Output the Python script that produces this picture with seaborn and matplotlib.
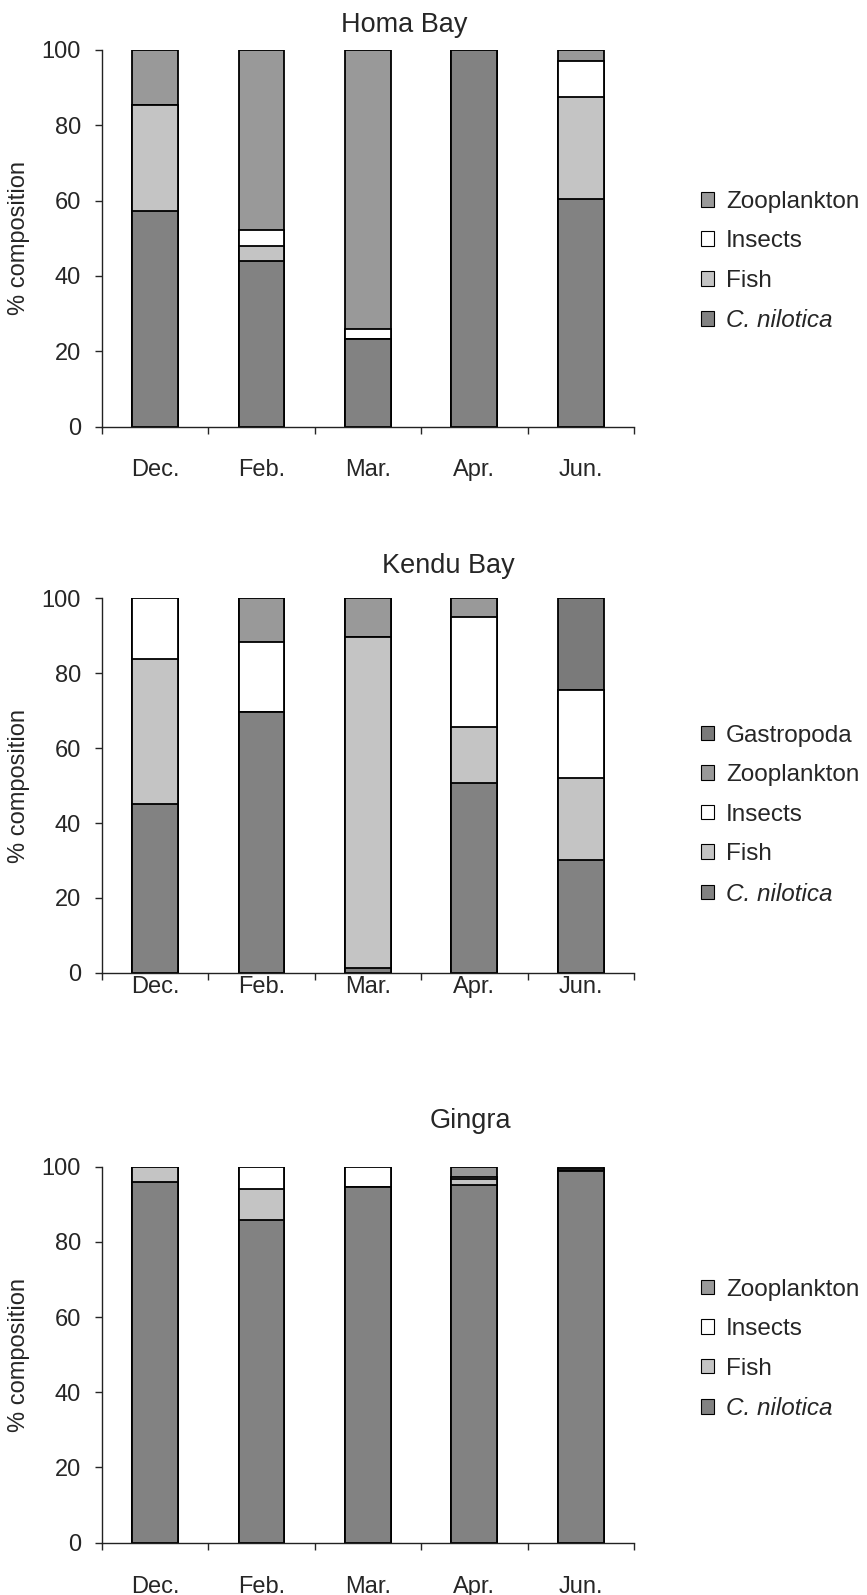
import matplotlib
matplotlib.use("Agg")
import matplotlib.pyplot as plt
from matplotlib.patches import Patch
from matplotlib.ticker import FixedLocator
import seaborn as sns

### DATA (% composition)

months = ["Dec.", "Feb.", "Mar.", "Apr.", "Jun."]

homa_cnil = [57.3, 44.0, 23.3, 100.0, 60.4]
homa_fish = [28.1, 4.0, 0.0, 0.0, 27.0]
homa_insects = [0.0, 4.2, 2.5, 0.0, 9.7]
homa_zoo = [14.6, 47.8, 74.2, 0.0, 2.9]

kendu_cnil = [45.0, 69.6, 1.4, 50.7, 30.1]
kendu_fish = [38.8, 0.0, 88.3, 15.0, 21.9]
kendu_insects = [16.2, 18.7, 0.0, 29.3, 23.5]
kendu_zoo = [0.0, 11.7, 10.3, 5.0, 0.0]
kendu_gastro = [0.0, 0.0, 0.0, 0.0, 24.5]

gingra_cnil = [96.0, 85.8, 94.7, 95.1, 99.0]
gingra_fish = [4.0, 8.3, 0.0, 1.7, 0.0]
gingra_insects = [0.0, 5.9, 5.3, 0.6, 0.4]
gingra_zoo = [0.0, 0.0, 0.0, 2.6, 0.6]

yticks = [0, 20, 40, 60, 80, 100]

colors = {
    "C. nilotica": "#828282",
    "Fish": "#c4c4c4",
    "Insects": "#ffffff",
    "Zooplankton": "#999999",
    "Gastropoda": "#7a7a7a",
}

### STYLE

sns.set_style("ticks")
plt.rcParams["font.family"] = ["Liberation Sans", "DejaVu Sans"]
FS = 17

fig = plt.figure(figsize=(8.67, 15.95), dpi=100)

# panel settings: (title, series, axes rect, title x, title pad, xlabel pad, legend y)
panels = [
    ("Homa Bay",
     [("C. nilotica", homa_cnil), ("Fish", homa_fish), ("Insects", homa_insects),
      ("Zooplankton", homa_zoo)],
     [0.1173, 0.7325, 0.614, 0.2362], 0.568, 13, 23, 0.836),
    ("Kendu Bay",
     [("C. nilotica", kendu_cnil), ("Fish", kendu_fish), ("Insects", kendu_insects),
      ("Zooplankton", kendu_zoo), ("Gastropoda", kendu_gastro)],
     [0.1173, 0.3901, 0.614, 0.2347], 0.652, 18, 2, 0.489),
    ("Gingra",
     [("C. nilotica", gingra_cnil), ("Fish", gingra_fish), ("Insects", gingra_insects),
      ("Zooplankton", gingra_zoo)],
     [0.1173, 0.0328, 0.614, 0.2357], 0.692, 28, 24, 0.154),
]

for title, series, rect, tx, tpad, xpad, leg_y in panels:
    ax = fig.add_axes(rect)

    # cumulative stacks, drawn tallest first so each lower part sits on top
    cum = []
    running = [0.0] * len(months)
    for name, vals in series:
        running = [r + v for r, v in zip(running, vals)]
        cum.append((name, list(running)))
    for name, tops in reversed(cum):
        sns.barplot(x=months, y=tops, color=colors[name], saturation=1,
                    edgecolor="black", linewidth=1.3, width=0.43, ax=ax)

    ax.set_xlim(-0.5, 4.5)
    ax.set_ylim(0, 100)
    ax.set_yticks(yticks)
    ax.tick_params(axis="y", labelsize=FS, length=5, width=1, pad=10, direction="out")
    ax.tick_params(axis="x", which="major", labelsize=FS, length=0, pad=xpad)
    ax.xaxis.set_minor_locator(FixedLocator([-0.5, 0.5, 1.5, 2.5, 3.5, 4.5]))
    ax.tick_params(axis="x", which="minor", length=5, width=1, direction="out")
    ax.set_xlabel("")
    ax.set_ylabel("% composition", fontsize=FS)
    ax.yaxis.set_label_coords(-0.135, 0.5)
    ax.set_title(title, fontsize=19.5, x=tx, pad=tpad)
    sns.despine(ax=ax)
    for s in ["left", "bottom"]:
        ax.spines[s].set_linewidth(1)
        ax.spines[s].set_color("#222222")

    handles = [Patch(facecolor=colors[n], edgecolor="black", linewidth=0.8)
               for n, _ in reversed(series)]
    labels = [n for n, _ in reversed(series)]
    leg = ax.legend(handles, labels, loc="center left", bbox_to_anchor=(0.808, leg_y),
                    bbox_transform=fig.transFigure, frameon=False, fontsize=17.5,
                    handlelength=0.55, handleheight=0.55, handletextpad=0.5,
                    labelspacing=0.72, borderpad=0, borderaxespad=0)
    for t in leg.get_texts():
        if t.get_text() == "C. nilotica":
            t.set_fontstyle("italic")

fig.savefig("out.png", dpi=100)
